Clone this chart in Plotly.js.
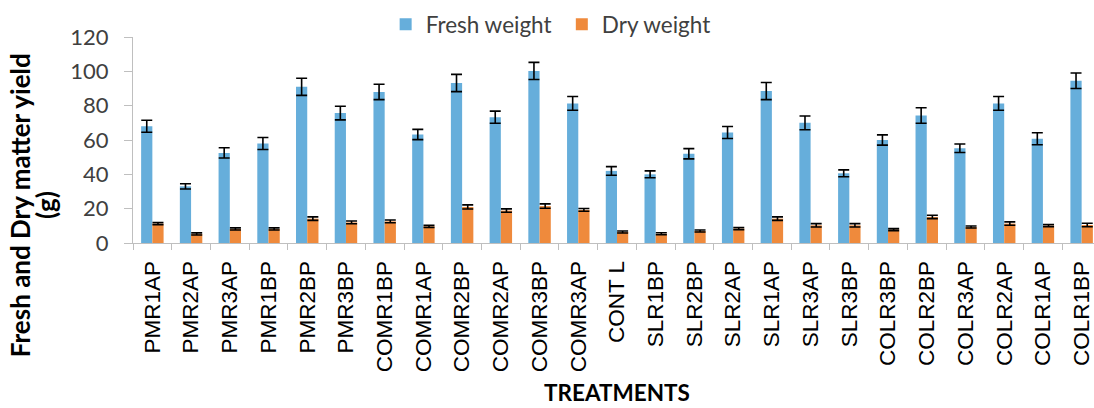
<!DOCTYPE html>
<html>
<head>
<meta charset="utf-8">
<script src="https://cdn.plot.ly/plotly-3.0.1.min.js"></script>
<style>
html, body { margin: 0; padding: 0; overflow: hidden; background: #ffffff; }
#chart { width: 1101px; height: 408px; }
</style>
</head>
<body>
<div id="chart"></div>
<script>
const treatments = ["PMR1AP","PMR2AP","PMR3AP","PMR1BP","PMR2BP","PMR3BP","COMR1BP","COMR1AP","COMR2BP","COMR2AP","COMR3BP","COMR3AP","CONT L","SLR1BP","SLR2BP","SLR2AP","SLR1AP","SLR3AP","SLR3BP","COLR3BP","COLR2BP","COLR3AP","COLR2AP","COLR1AP","COLR1BP"];
const freshWeight = [68, 33, 52.5, 58, 91, 75.7, 88, 63.2, 93.2, 73.3, 100.2, 81.3, 42, 40, 52, 64.4, 88.5, 70, 40.6, 60, 74.3, 55.2, 81.3, 60.7, 94.5];
const freshError = [3.5, 1.5, 3, 3.5, 5, 4, 4.5, 3, 5, 3.5, 5, 4, 2.5, 2, 3, 3.5, 5, 4, 2, 3, 4.5, 2.5, 4, 3.5, 4.5];
const dryWeight = [11.3, 5.3, 8.2, 8.2, 14.2, 12, 12.6, 9.7, 21, 18.9, 21.5, 19.3, 6.4, 5.4, 7, 8.4, 14.2, 10.3, 10.3, 7.8, 15.2, 9.3, 11.3, 10.1, 10.5];
const dryError = [0.6, 0.6, 0.6, 0.6, 1, 0.8, 0.8, 0.6, 1.2, 1, 1.3, 0.8, 0.6, 0.6, 0.6, 0.6, 1, 1, 1, 0.6, 1, 0.6, 1, 0.6, 1];
const yTicks = [0, 20, 40, 60, 80, 100, 120];

const calibriLike = "Lato, 'Open Sans', sans-serif";
const traces = [
  {
    type: "bar", name: "Fresh weight", x: treatments, y: freshWeight, legend: "legend",
    marker: { color: "#66AEDB", line: { width: 0 } },
    error_y: { type: "data", array: freshError, visible: true, color: "#000000", thickness: 1.6, width: 5.5 }
  },
  {
    type: "bar", name: "Dry weight", x: treatments, y: dryWeight, legend: "legend2",
    marker: { color: "#EF8A3C", line: { width: 0 } },
    error_y: { type: "data", array: dryError, visible: true, color: "#000000", thickness: 1.6, width: 5.5 }
  }
];

const legendFont = { family: calibriLike, size: 22.5, color: "#404040" };
const layout = {
  width: 1101, height: 408,
  margin: { l: 133, r: 0, t: 37, b: 165, pad: 0 },
  paper_bgcolor: "#ffffff", plot_bgcolor: "#ffffff",
  barmode: "group", bargap: 0.42, bargroupgap: 0,
  showlegend: true,
  legend: {
    orientation: "h", x: 0.261, xanchor: "left", y: 1.06, yanchor: "middle",
    font: legendFont, bgcolor: "rgba(0,0,0,0)"
  },
  legend2: {
    orientation: "h", x: 0.443, xanchor: "left", y: 1.06, yanchor: "middle",
    font: legendFont, bgcolor: "rgba(0,0,0,0)"
  },
  xaxis: {
    type: "category", tickangle: -90, tickson: "boundaries",
    ticks: "outside", ticklen: 6, tickcolor: "#BFBFBF", tickwidth: 1,
    showline: true, linecolor: "#BFBFBF", linewidth: 1,
    showgrid: false, zeroline: false, automargin: false,
    ticklabelstandoff: 8,
    tickfont: { family: "'Liberation Sans', Arial, sans-serif", size: 22.5, color: "#000000" }
  },
  yaxis: {
    range: [0, 120], tickvals: yTicks, ticktext: yTicks.map(String),
    ticks: "outside", ticklen: 8, tickcolor: "#BFBFBF", tickwidth: 1,
    showline: true, linecolor: "#BFBFBF", linewidth: 1,
    showgrid: false, zeroline: false, automargin: false,
    ticklabelstandoff: 11,
    tickfont: { family: calibriLike, size: 22, color: "#404040" }
  },
  annotations: [
    {
      text: "<b>Fresh and Dry matter yield</b>", textangle: -90,
      xref: "paper", yref: "paper", x: -0.1167, y: 0.184, xanchor: "center", yanchor: "middle",
      showarrow: false, font: { family: calibriLike, size: 26, color: "#000000" }
    },
    {
      text: "<b>(g)</b>", textangle: -90,
      xref: "paper", yref: "paper", x: -0.0899, y: 0.184, xanchor: "center", yanchor: "middle",
      showarrow: false, font: { family: calibriLike, size: 26, color: "#000000" }
    },
    {
      text: "<b>TREATMENTS</b>",
      xref: "paper", yref: "paper", x: 0.5, y: -0.728, xanchor: "center", yanchor: "middle",
      showarrow: false, font: { family: calibriLike, size: 22.5, color: "#000000" }
    }
  ]
};

Plotly.newPlot("chart", traces, layout, { staticPlot: true, displayModeBar: false });
</script>
</body>
</html>
